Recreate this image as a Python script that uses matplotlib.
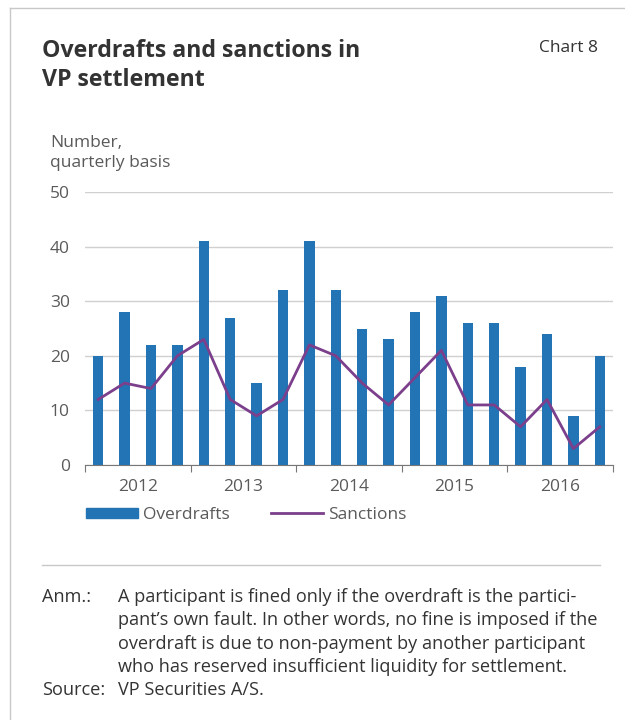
import matplotlib
matplotlib.use("Agg")
import matplotlib.pyplot as plt
from matplotlib.lines import Line2D
from matplotlib.patches import Patch
import numpy as np

plt.rcParams['font.family'] = ['Open Sans', 'DejaVu Sans']

# quarterly data 2012 Q1 - 2016 Q4
years = ['2012', '2013', '2014', '2015', '2016']
overdrafts = [20, 28, 22, 22, 41, 27, 15, 32, 41, 32, 25, 23, 28, 31, 26, 26, 18, 24, 9, 20]
sanctions = [12, 15, 14, 20, 23, 12, 9, 12, 22, 20, 15, 11, 16, 21, 11, 11, 7, 12, 3, 7]

bar_col = '#2274b5'
line_col = '#7b3f8c'
txt_col = '#5a5a5a'
dark = '#333333'

W, H = 625, 720
fig = plt.figure(figsize=(W / 100, H / 100), dpi=100)

def fx(px):
    return px / W

def fy(py):
    return 1 - py / H

ax = fig.add_axes([fx(85), fy(465), fx(613) - fx(85), fy(192) - fy(465)])

x = np.arange(len(overdrafts))
ax.bar(x, overdrafts, width=0.4, color=bar_col, zorder=2)
ax.plot(x, sanctions, color=line_col, lw=2, zorder=3)

ax.set_xlim(-0.5, len(overdrafts) - 0.5)
ax.set_ylim(0, 50)
ax.set_yticks([0, 10, 20, 30, 40, 50])
ax.yaxis.grid(True, color='#d0d0d0', lw=1)
ax.set_axisbelow(True)
ax.tick_params(axis='y', length=0, labelsize=12.5, labelcolor=txt_col, pad=11)

# year boundaries as ticks, year labels in the middle
ax.set_xticks(np.arange(-0.5, len(overdrafts), 4))
ax.set_xticklabels([])
ax.set_xticks(np.arange(1.5, len(overdrafts), 4), minor=True)
ax.set_xticklabels(years, minor=True)
ax.tick_params(axis='x', which='major', length=5, color='#777777', direction='out')
ax.tick_params(axis='x', which='minor', length=0, labelsize=12.5, labelcolor=txt_col, pad=10)

for s in ['top', 'right', 'left']:
    ax.spines[s].set_visible(False)
ax.spines['bottom'].set_color('#777777')

handles = [Patch(color=bar_col), Line2D([0], [0], color=line_col, lw=2)]
leg = fig.legend(handles, ['Overdrafts', 'Sanctions'], loc='center left',
                 bbox_to_anchor=(fx(70), fy(515)), ncol=2, frameon=False,
                 fontsize=12.5, handlelength=3.0, handleheight=0.52,
                 handletextpad=0.3, columnspacing=2.36)
for t in leg.get_texts():
    t.set_color(txt_col)

# frame lines
fig.add_artist(Line2D([fx(10), fx(625)], [fy(8), fy(8)], color='#c8c8c8', lw=1))
fig.add_artist(Line2D([fx(10), fx(10)], [fy(8), fy(720)], color='#c8c8c8', lw=1))
fig.add_artist(Line2D([fx(42), fx(600)], [fy(565), fy(565)], color='#c8c8c8', lw=1))

fig.text(fx(42), fy(57), 'Overdrafts and sanctions in', fontsize=16.7,
         fontweight='bold', color=dark, va='baseline', ha='left')
fig.text(fx(42), fy(86), 'VP settlement', fontsize=16.7,
         fontweight='bold', color=dark, va='baseline', ha='left')
fig.text(fx(598), fy(52), 'Chart 8', fontsize=12.5, color=dark, va='baseline', ha='right')
fig.text(fx(50), fy(147), 'Number,', fontsize=12.5, color=txt_col, va='baseline')
fig.text(fx(50), fy(167), 'quarterly basis', fontsize=12.5, color=txt_col, va='baseline')

note_lines = ['A participant is fined only if the overdraft is the partici-',
              'pant\u2019s own fault. In other words, no fine is imposed if the',
              'overdraft is due to non-payment by another participant',
              'who has reserved insufficient liquidity for settlement.']
for i, line in enumerate(note_lines):
    fig.text(fx(118), fy(597 + i * 23.3), line, fontsize=13.1, color=dark, va='center')
fig.text(fx(42), fy(597), 'Anm.:', fontsize=13.1, color=dark, va='center')
fig.text(fx(42), fy(690), 'Source:', fontsize=13.1, color=dark, va='center')
fig.text(fx(118), fy(690), 'VP Securities A/S.', fontsize=13.1, color=dark, va='center')

fig.savefig('out.png', dpi=100)
